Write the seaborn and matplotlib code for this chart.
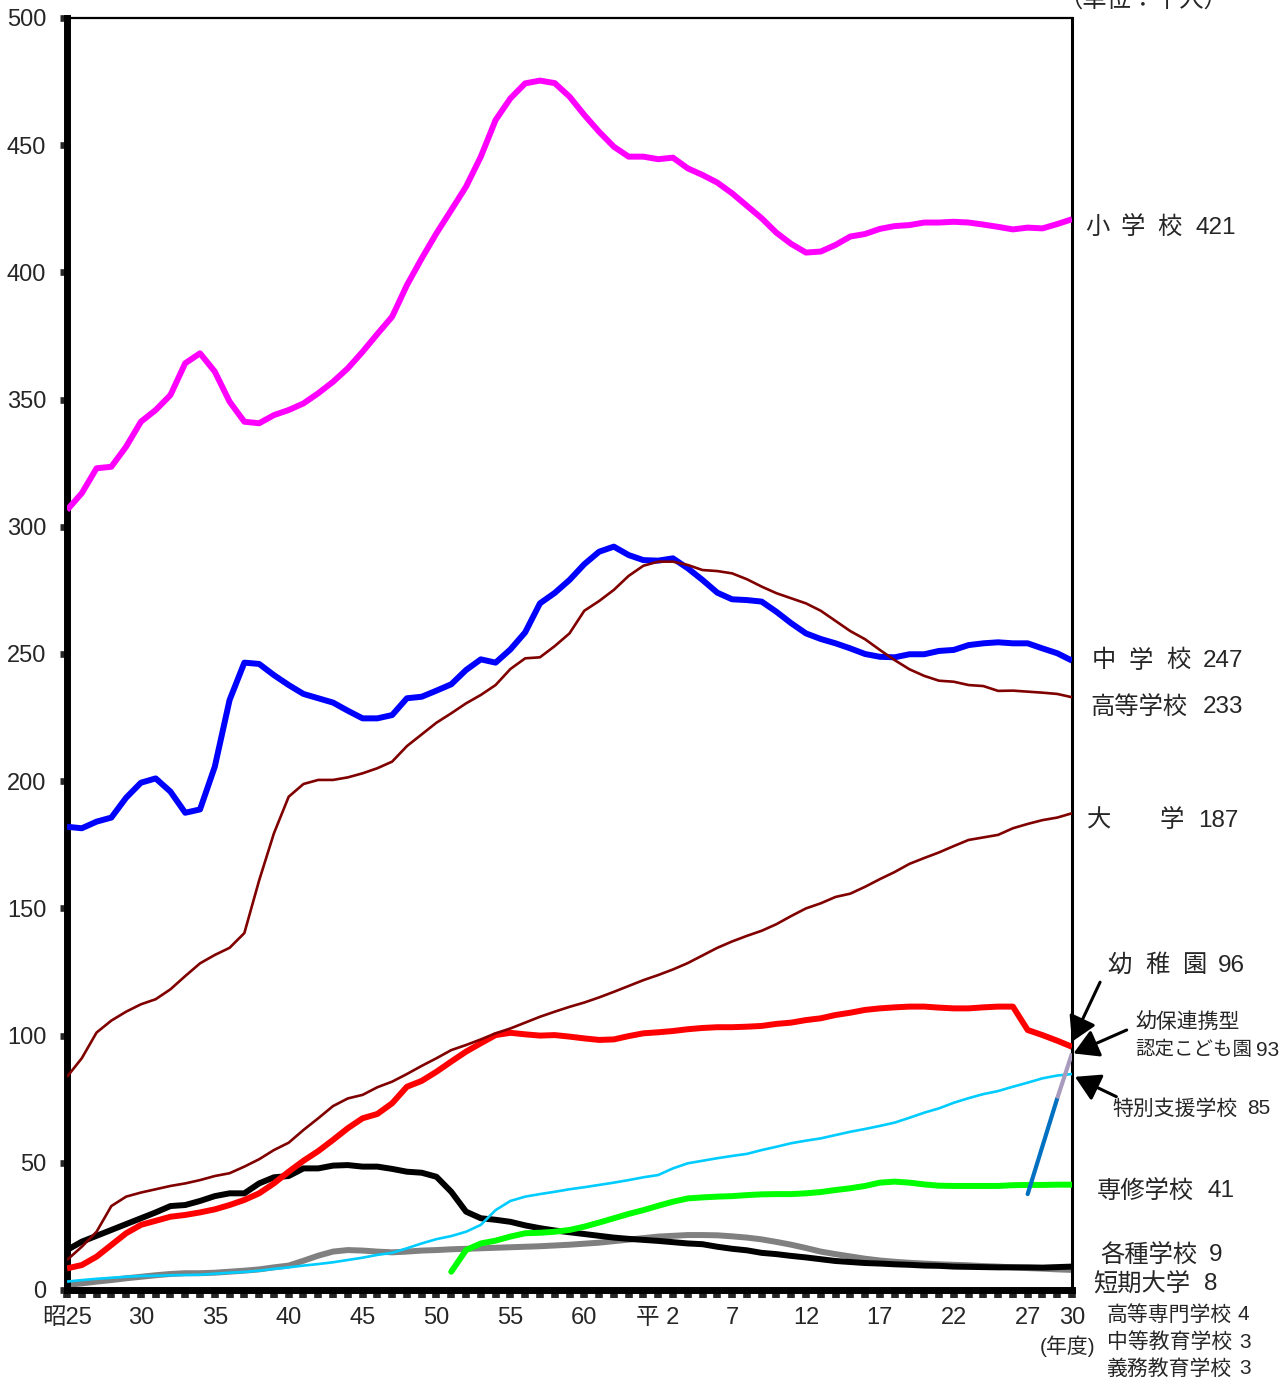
# 学校種別 本務教員数の推移 (単位：千人), 昭和25年度～平成30年度
import numpy as np
import pandas as pd
import seaborn as sns
import matplotlib.pyplot as plt

# Data
years = list(range(1950, 2019))

shogakko = [306.6, 313.2, 323.0, 323.6, 331.5, 341.3, 345.9, 351.8, 364.3, 368.2,
            361.0, 349.2, 341.3, 340.7, 343.9, 345.9, 348.5, 352.5, 357.0, 362.3,
            368.8, 375.8, 382.6, 395.0, 405.5, 415.4, 424.5, 433.7, 445.5, 459.9,
            468.4, 474.3, 475.4, 474.4, 469.1, 461.9, 455.3, 449.4, 445.5, 445.5,
            444.5, 445.1, 440.9, 438.3, 435.3, 431.1, 426.2, 421.3, 415.6, 411.2,
            407.8, 408.2, 410.8, 414.1, 415.1, 417.1, 418.2, 418.6, 419.6, 419.6,
            419.9, 419.6, 418.8, 417.9, 416.9, 417.6, 417.3, 419.0, 420.9]

chugakko = [182.1, 181.5, 184.1, 185.7, 193.5, 199.4, 201.1, 195.9, 187.6, 188.9,
            205.7, 231.9, 246.6, 246.1, 241.7, 237.8, 234.3, 232.6, 230.9, 227.7,
            224.7, 224.7, 226.0, 232.6, 233.2, 235.6, 238.1, 243.7, 247.9, 246.6,
            251.8, 258.5, 269.9, 274.0, 279.1, 285.3, 290.2, 292.2, 288.9, 286.9,
            286.7, 287.6, 283.7, 279.1, 274.1, 271.5, 271.2, 270.6, 266.6, 262.1,
            258.1, 255.9, 254.2, 252.2, 250.0, 248.9, 248.7, 249.9, 249.9, 251.2,
            251.6, 253.5, 254.2, 254.6, 254.2, 254.2, 252.2, 250.3, 247.4]

koko = [83.8, 91.1, 101.2, 105.9, 109.4, 112.3, 114.3, 118.2, 123.4, 128.4,
        131.7, 134.5, 140.3, 161.0, 179.5, 193.9, 198.9, 200.5, 200.5, 201.5,
        203.1, 205.1, 207.7, 213.8, 218.4, 223.0, 226.7, 230.6, 233.9, 237.8,
        244.1, 248.3, 248.7, 253.1, 258.1, 267.0, 270.8, 275.2, 280.7, 284.7,
        286.3, 286.3, 285.0, 283.0, 282.6, 281.7, 279.4, 276.5, 273.9, 271.9,
        269.9, 267.0, 263.0, 259.0, 255.8, 251.6, 247.6, 244.0, 241.4, 239.5,
        239.1, 237.8, 237.4, 235.5, 235.6, 235.2, 234.8, 234.3, 233.0]

daigaku = [11.8, 17.0, 22.9, 33.0, 36.7, 38.3, 39.6, 40.9, 41.9, 43.2,
           44.8, 45.9, 48.5, 51.4, 55.0, 57.9, 62.9, 67.5, 72.3, 75.3,
           76.7, 79.7, 81.9, 84.9, 88.1, 91.1, 94.3, 96.3, 98.5, 100.9,
           102.8, 105.1, 107.4, 109.4, 111.3, 113.0, 115.0, 117.2, 119.5, 121.8,
           123.8, 126.0, 128.5, 131.5, 134.5, 137.0, 139.2, 141.2, 143.8, 147.0,
           150.0, 152.0, 154.5, 155.8, 158.5, 161.5, 164.3, 167.5, 169.8, 172.0,
           174.5, 176.9, 177.9, 178.9, 181.5, 183.2, 184.7, 185.7, 187.4]

yochien = [8.5, 9.8, 13.1, 17.7, 22.3, 25.6, 27.2, 28.8, 29.5, 30.5,
           31.7, 33.4, 35.4, 38.0, 41.9, 46.5, 50.8, 54.6, 59.0, 63.6,
           67.5, 69.2, 73.4, 79.9, 82.2, 85.8, 89.8, 93.7, 97.0, 100.2,
           101.1, 100.5, 100.0, 100.2, 99.6, 98.9, 98.3, 98.5, 99.8, 100.9,
           101.3, 101.8, 102.5, 103.0, 103.3, 103.3, 103.5, 103.8, 104.6, 105.1,
           106.1, 106.8, 108.1, 109.0, 110.1, 110.7, 111.1, 111.4, 111.4, 111.0,
           110.7, 110.7, 111.1, 111.4, 111.4, 102.2, 100.2, 98.0, 95.6]

tokubetsu = [3.3, 3.9, 4.4, 4.8, 5.2, 5.5, 5.6, 5.8, 5.9, 6.0,
             6.4, 6.8, 7.1, 7.6, 8.3, 8.9, 9.6, 10.2, 10.9, 11.8,
             12.7, 13.8, 14.6, 16.4, 18.3, 20.0, 21.2, 22.9, 25.6, 31.4,
             35.0, 36.7, 37.7, 38.6, 39.6, 40.4, 41.3, 42.2, 43.2, 44.3,
             45.2, 47.8, 49.8, 50.8, 51.8, 52.7, 53.5, 55.0, 56.3, 57.7,
             58.7, 59.6, 60.9, 62.2, 63.3, 64.5, 65.8, 67.7, 69.7, 71.4,
             73.6, 75.4, 77.0, 78.2, 79.9, 81.5, 83.2, 84.3, 84.9]

kakushu = [15.7, 19.0, 21.3, 23.6, 25.9, 28.2, 30.5, 33.0, 33.4, 35.0,
           36.9, 38.0, 38.0, 41.9, 44.3, 44.8, 47.8, 47.8, 48.9, 49.1,
           48.5, 48.5, 47.6, 46.5, 46.1, 44.5, 38.6, 30.8, 28.2, 27.6,
           26.8, 25.4, 24.3, 23.4, 22.7, 22.0, 21.3, 20.6, 20.1, 19.7,
           19.3, 18.8, 18.3, 18.0, 17.0, 16.2, 15.6, 14.6, 14.1, 13.4,
           12.8, 12.1, 11.4, 11.0, 10.6, 10.4, 10.1, 9.9, 9.6, 9.5,
           9.2, 9.1, 9.0, 8.9, 8.9, 8.9, 8.8, 9.0, 9.2]

tandai = [2.0, 2.6, 3.3, 3.9, 4.6, 5.2, 5.8, 6.3, 6.6, 6.6,
          6.8, 7.2, 7.6, 8.1, 8.9, 9.6, 11.5, 13.5, 15.1, 15.7,
          15.5, 15.1, 14.8, 15.1, 15.5, 15.7, 16.0, 16.2, 16.4, 16.6,
          16.8, 17.0, 17.2, 17.5, 17.8, 18.2, 18.6, 19.2, 19.8, 20.4,
          21.0, 21.3, 21.6, 21.6, 21.5, 21.1, 20.6, 19.9, 18.9, 17.8,
          16.5, 15.1, 14.1, 13.2, 12.3, 11.6, 11.1, 10.7, 10.4, 10.1,
          9.9, 9.7, 9.4, 9.2, 8.9, 8.6, 8.4, 8.1, 7.9]

# 専修学校 (昭和51年度～)
senshu_years = list(range(1976, 2019))
senshu = [7.2, 15.7, 18.3, 19.4, 21.0, 22.3, 22.5, 22.9, 23.6, 24.9,
          26.5, 28.2, 29.9, 31.4, 33.1, 34.7, 36.0, 36.4, 36.7, 36.9,
          37.3, 37.6, 37.7, 37.7, 38.0, 38.5, 39.3, 40.0, 40.9, 42.2,
          42.6, 42.2, 41.5, 41.0, 40.9, 40.9, 40.9, 40.9, 41.2, 41.3,
          41.3, 41.4, 41.4]

# 幼保連携型認定こども園 (平成27年度～)
kodomoen_years = [2015, 2016, 2017]
kodomoen = [37.7, 56.5, 75.3]
kodomoen_last_years = [2017, 2018]
kodomoen_last = [75.3, 93.0]

tick_years = [1950, 1955, 1960, 1965, 1970, 1975, 1980, 1985,
              1990, 1995, 2000, 2005, 2010, 2015, 2018]
tick_labels = ["昭25", "30", "35", "40", "45", "50", "55", "60",
               "平 2", "7", "12", "17", "22", "27", "30"]

sns.set_style("white")
plt.rcParams['font.family'] = ['Liberation Sans', 'Noto Sans CJK JP']

W, H = 1287, 1392
fig = plt.figure(figsize=(W / 100, H / 100), dpi=100)
ax = fig.add_axes([67 / W, 1 - 1290 / H, (1072 - 67) / W, (1290 - 18) / H])


def fx(x):
    return x / W


def fy(y):
    return 1 - y / H


thick = 4.3
thin = 1.9

# lines, back to front
sns.lineplot(x=years, y=tandai, ax=ax, color="#808080", linewidth=thick,
             solid_capstyle="butt", zorder=2)
sns.lineplot(x=years, y=kakushu, ax=ax, color="black", linewidth=thick,
             solid_capstyle="butt", zorder=3)
sns.lineplot(x=years, y=tokubetsu, ax=ax, color="#00CCFF", linewidth=thin,
             solid_capstyle="butt", zorder=4)
sns.lineplot(x=senshu_years, y=senshu, ax=ax, color="#00FF00", linewidth=thick,
             solid_capstyle="round", zorder=4)
sns.lineplot(x=years, y=yochien, ax=ax, color="#FF0000", linewidth=thick,
             solid_capstyle="butt", zorder=5)
sns.lineplot(x=years, y=daigaku, ax=ax, color="#800000", linewidth=thin,
             solid_capstyle="butt", zorder=6)
sns.lineplot(x=years, y=chugakko, ax=ax, color="#0000FF", linewidth=thick,
             solid_capstyle="butt", zorder=6)
sns.lineplot(x=years, y=koko, ax=ax, color="#800000", linewidth=thin,
             solid_capstyle="butt", zorder=7)
sns.lineplot(x=years, y=shogakko, ax=ax, color="#FF00FF", linewidth=thick,
             solid_capstyle="butt", zorder=7)
sns.lineplot(x=kodomoen_years, y=kodomoen, ax=ax, color="#0070C0", linewidth=3,
             solid_capstyle="round", zorder=8)
sns.lineplot(x=kodomoen_last_years, y=kodomoen_last, ax=ax, color="#A99BBD",
             linewidth=3, solid_capstyle="butt", zorder=8)

ax.set_xlim(1950, 2018)
ax.set_ylim(0, 500)
ax.set_xlabel("")
ax.set_ylabel("")

ax.set_yticks(range(0, 501, 50))
ax.set_xticks(tick_years)
ax.set_xticklabels(tick_labels)
ax.set_xticks(years, minor=True)
ax.tick_params(axis="y", direction="out", length=5, width=4.8, pad=10,
               labelsize=17, left=True)
ax.tick_params(axis="x", which="both", direction="out", length=5.5, width=5.5,
               pad=7, labelsize=17, bottom=True)

for side, lw in [("left", 5), ("bottom", 5), ("top", 1.6), ("right", 2.2)]:
    ax.spines[side].set_visible(True)
    ax.spines[side].set_color("black")
    ax.spines[side].set_linewidth(lw)

# labels at the right side
big = 17.5
small = 15
right_labels = [
    (228, big, [("小", 1085), ("学", 1121), ("校", 1157), ("421", 1195)]),
    (661, big, [("中", 1092), ("学", 1129), ("校", 1166), ("247", 1203)]),
    (707, big, [("高等学校", 1090), ("233", 1203)]),
    (821, big, [("大", 1087), ("学", 1160), ("187", 1198)]),
    (966, big, [("幼", 1107), ("稚", 1145), ("園", 1183), ("96", 1218)]),
    (1022, small, [("幼保連携型", 1135)]),
    (1050, 14, [("認定こども園", 1135)]),
    (1050, small, [("93", 1256)]),
    (1109, small, [("特別支援学校", 1112), ("85", 1247)]),
    (1191, big, [("専修学校", 1097), ("41", 1208)]),
    (1255, big, [("各種学校", 1100), ("9", 1209)]),
    (1284, big, [("短期大学", 1093), ("8", 1204)]),
    (1315, small, [("高等専門学校", 1107), ("4", 1238)]),
    (1342, small, [("中等教育学校", 1107), ("3", 1239)]),
    (1369, small, [("義務教育学校", 1107), ("3", 1239)]),
]
for y, size, parts in right_labels:
    for s, x in parts:
        fig.text(fx(x), fy(y), s, fontsize=size, ha="left", va="center")

fig.text(fx(1040), fy(1346), "(年度)", fontsize=small, ha="left", va="center")
# unit note, partly cut off by the top edge as in the original
fig.text(fx(1058), fy(1), "（単位：千人）", fontsize=big, ha="left", va="center")

# arrows to the line ends
arrow = dict(arrowstyle="-|>,head_length=0.6,head_width=0.35", color="black",
             lw=2.2, mutation_scale=25, shrinkA=0, shrinkB=0)
ax.annotate("", xy=(2018.0, 97.6), xytext=(2019.9, 121.0), arrowprops=arrow,
            annotation_clip=False)
ax.annotate("", xy=(2018.1, 93.0), xytext=(2021.7, 102.2), arrowprops=arrow,
            annotation_clip=False)
ax.annotate("", xy=(2018.2, 83.8), xytext=(2021.0, 76.0), arrowprops=arrow,
            annotation_clip=False)

fig.savefig("out.png", dpi=100)
